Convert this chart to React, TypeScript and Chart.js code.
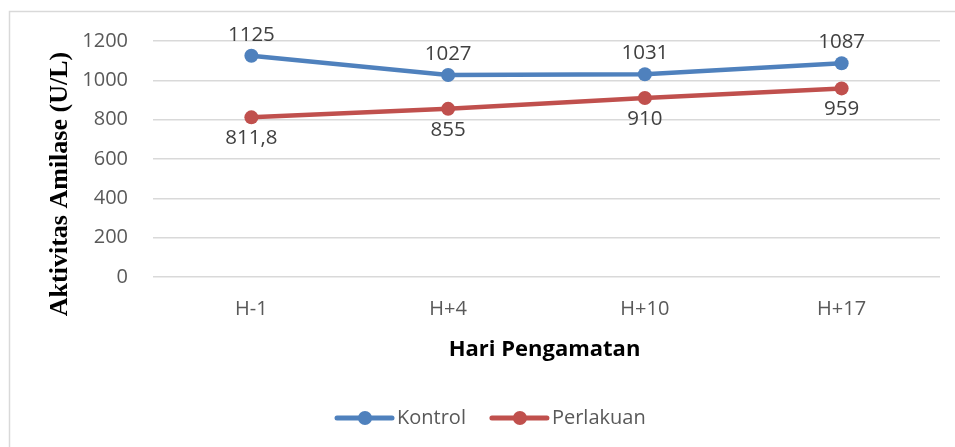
import React, { useEffect, useRef } from "react";
import { Chart, registerables } from "chart.js";

Chart.register(...registerables);

const categories = ["H-1", "H+4", "H+10", "H+17"];
const kontrol = [1125, 1027, 1031, 1087];
const perlakuan = [811.8, 855, 910, 959];
const yTicks = [0, 200, 400, 600, 800, 1000, 1200];
const yTitle = "Aktivitas Amilase (U/L)";
const xTitle = "Hari Pengamatan";

const BLUE = "#4F81BD";
const RED = "#C0504D";
const SANS = "'Open Sans', 'Noto Sans', sans-serif";

const fmt = (v: number) => String(v).replace(".", ",");

const decorPlugin = {
  id: "decor",
  beforeDraw(chart: any) {
    const ctx = chart.ctx;
    ctx.save();
    ctx.strokeStyle = "#d9d9d9";
    ctx.lineWidth = 1.5;
    ctx.beginPath();
    ctx.moveTo(9.5, 460);
    ctx.lineTo(9.5, 11.5);
    ctx.lineTo(970, 11.5);
    ctx.stroke();
    ctx.restore();
  },
  afterDraw(chart: any) {
    const ctx = chart.ctx;
    const area = chart.chartArea;
    ctx.save();
    // data labels
    ctx.font = `20.5px ${SANS}`;
    ctx.fillStyle = "#404040";
    ctx.textAlign = "center";
    ctx.textBaseline = "middle";
    chart.data.datasets.forEach((ds: any, di: number) => {
      const meta = chart.getDatasetMeta(di);
      meta.data.forEach((pt: any, i: number) => {
        const v = ds.data[i];
        const dy = di === 0 ? -21 : 21;
        ctx.fillText(fmt(v), pt.x, pt.y + dy);
      });
    });
    // y title
    ctx.save();
    ctx.font = `bold 26px 'Liberation Serif', 'Times New Roman', serif`;
    ctx.fillStyle = "#000000";
    ctx.translate(67, 184);
    ctx.rotate(-Math.PI / 2);
    ctx.textAlign = "center";
    ctx.textBaseline = "alphabetic";
    ctx.fillText(yTitle, 0, 0);
    ctx.restore();
    // x title
    ctx.font = `bold 22px ${SANS}`;
    ctx.fillStyle = "#000000";
    ctx.textAlign = "center";
    ctx.textBaseline = "middle";
    ctx.fillText(xTitle, (area.left + area.right) / 2 - 2, 350);
    // legend
    const cy = 418;
    let x = 337;
    ctx.font = `20px ${SANS}`;
    ctx.textAlign = "left";
    chart.data.datasets.forEach((ds: any) => {
      ctx.strokeStyle = ds.borderColor;
      ctx.lineWidth = 5;
      ctx.lineCap = "round";
      ctx.beginPath();
      ctx.moveTo(x, cy);
      ctx.lineTo(x + 55, cy);
      ctx.stroke();
      ctx.fillStyle = ds.borderColor;
      ctx.beginPath();
      ctx.arc(x + 28, cy, 7, 0, Math.PI * 2);
      ctx.fill();
      ctx.fillStyle = "#595959";
      ctx.fillText(ds.label, x + 60, cy);
      const w = ctx.measureText(ds.label).width;
      x += 60 + w + 26;
    });
    ctx.restore();
  },
};

export default function App() {
  const ref = useRef<HTMLCanvasElement | null>(null);
  useEffect(() => {
    if (!ref.current) return;
    const chart = new Chart(ref.current, {
      type: "line",
      data: {
        labels: categories,
        datasets: [
          {
            label: "Kontrol",
            data: kontrol,
            borderColor: BLUE,
            backgroundColor: BLUE,
            borderWidth: 4.5,
            pointRadius: 7,
            pointBackgroundColor: BLUE,
            pointBorderWidth: 0,
            tension: 0,
          },
          {
            label: "Perlakuan",
            data: perlakuan,
            borderColor: RED,
            backgroundColor: RED,
            borderWidth: 4.5,
            pointRadius: 7,
            pointBackgroundColor: RED,
            pointBorderWidth: 0,
            tension: 0,
          },
        ],
      },
      options: {
        responsive: false,
        animation: false,
        devicePixelRatio: 1,
        layout: { padding: { left: 0, top: 41, right: 15, bottom: 0 } },
        plugins: { legend: { display: false }, tooltip: { enabled: false } },
        scales: {
          x: {
            offset: true,
            grid: { display: false, drawTicks: false },
            border: { display: false },
            ticks: { color: "#595959", font: { family: SANS, size: 20 }, padding: 20 },
            afterFit: (s: any) => { s.height = 170; },
          },
          y: {
            min: 0,
            max: 1200,
            afterBuildTicks: (s: any) => { s.ticks = yTicks.map((v) => ({ value: v })); },
            grid: { color: "#d9d9d9", lineWidth: 1.5, drawTicks: false },
            border: { display: false },
            ticks: {
              color: "#595959",
              font: { family: SANS, size: 20 },
              padding: 25,
              callback: (v: any) => String(v),
            },
            afterFit: (s: any) => { s.width = 153; },
          },
        },
      },
      plugins: [decorPlugin],
    });
    return () => chart.destroy();
  }, []);
  return (
    <div style={{ position: "fixed", left: 0, top: 0, width: 955, height: 447, background: "#fff" }}>
      <canvas ref={ref} width={955} height={447} style={{ width: 955, height: 447, display: "block" }} />
    </div>
  );
}
